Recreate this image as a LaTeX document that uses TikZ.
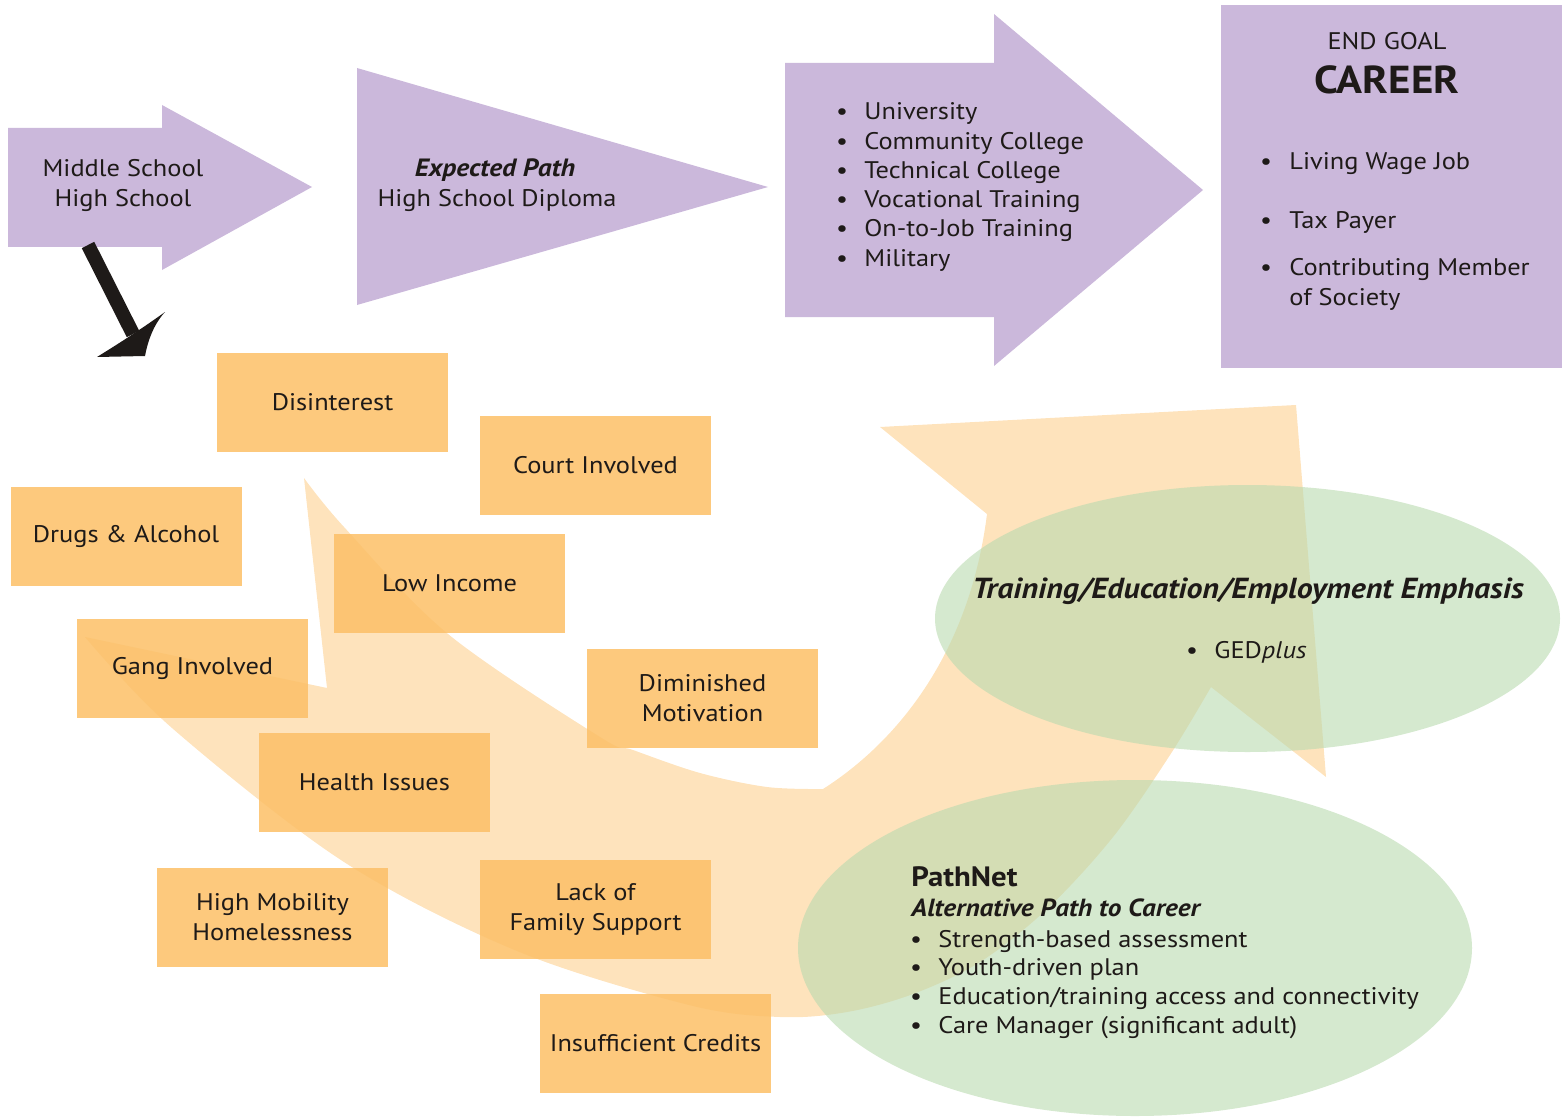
\documentclass[tikz,border=0pt]{standalone}
\usepackage{fontspec}
\setmainfont{PT Sans}[FakeStretch=1.1]
\usetikzlibrary{shapes.geometric}
\definecolor{purpc}{HTML}{CBB8DB}
\definecolor{oboxc}{RGB}{253,191,102}
\definecolor{obandc}{RGB}{252,192,106}
\definecolor{gellc}{RGB}{185,218,175}
\definecolor{tcol}{HTML}{1E1A18}
\begin{document}
\begin{tikzpicture}[x=0.5pt,y=-0.5pt,
  purp/.style={fill=purpc},
  tx/.style={text=tcol, inner sep=0pt, font=\fontsize{12}{15}\selectfont},
  obx/.style={fill=oboxc, fill opacity=0.85, text opacity=1, minimum width=115.5pt,
    minimum height=49.5pt, inner sep=0pt, align=center, text=tcol,
    font=\fontsize{12}{15}\selectfont},
  ell/.style={ellipse, fill=gellc, fill opacity=0.6, inner sep=0pt},
  bandfill/.style={fill=obandc, fill opacity=0.45},
]
\useasboundingbox (0,0) rectangle (1562,1118);

% ---------- purple top row ----------
\fill[purp] (8,128) -- (162,128) -- (162,105) -- (312,187) -- (162,270) -- (162,247) -- (8,247) -- cycle;
\fill[purp] (357,68) -- (768,187) -- (357,305) -- cycle;
\fill[purp] (785,63) -- (994,63) -- (994,14) -- (1203,190) -- (994,366) -- (994,317) -- (785,317) -- cycle;
\fill[purp] (1221,5) rectangle (1562,368);

\node[tx, anchor=base] (ms1) at (123,177) {Middle School};
\node[tx, anchor=base] (ms2) at (123,207) {High School};
\node[tx, anchor=base, font=\fontsize{12.5}{15}\selectfont\bfseries\itshape] (ep1) at (495,177) {Expected Path};
\node[tx, anchor=base] (ep2) at (497,207) {High School Diploma};

\foreach \t [count=\i] in {University, Community College, Technical College, Vocational Training, On-to-Job Training, Military}{
  \node[tx, anchor=base] (pb\i) at (842,{120+29.2*(\i-1)}) {\textbullet};
  \node[tx, anchor=base west] (pt\i) at (864,{120+29.2*(\i-1)}) {\t};
}

\node[tx, anchor=base] (eg) at (1387,50) {END GOAL};
\node[tx, anchor=base, font=\fontsize{19.5}{21}\selectfont\bfseries] (car) at (1387,94) {CAREER};
\node[tx, anchor=base] (cb1) at (1266,170) {\textbullet};
\node[tx, anchor=base west] (ct1) at (1289,170) {Living Wage Job};
\node[tx, anchor=base] (cb2) at (1266,228) {\textbullet};
\node[tx, anchor=base west] (ct2) at (1289,228) {Tax Payer};
\node[tx, anchor=base] (cb3) at (1266,276) {\textbullet};
\node[tx, anchor=base west] (ct3) at (1289,276) {Contributing Member};
\node[tx, anchor=base west] (ct4) at (1289,305) {of Society};

% ---------- black arrow ----------
\coordinate (bs) at (88,245);
\coordinate (be) at (133,334);
\draw[line width=7pt, tcol] (bs) -- (be);
\fill[tcol] (165,312) .. controls (140,330) and (118,344) .. (97,357)
  -- (145,356) .. controls (148,340) and (154,324) .. (165,312) -- cycle;

% ---------- curved orange band ----------
\path[bandfill] (304,478) -- (327,688) -- (85,637)
  -- plot[smooth, tension=0.55] coordinates {(85,637) (172,728) (344,862) (517,951) (689,1005) (780,1017) (847,1012) (913,994) (980,962) (1047,909) (1113,837) (1170,755) (1211,687)}
  -- (1326,777) -- (1296,405) -- (880,427) -- (987,514)
  .. controls (970,650) and (900,740) .. (823,789)
  -- plot[smooth, tension=0.55] coordinates {(823,789) (767,787) (700,773) (633,750) (600,737) (448,634) (344,527) (304,478)}
  -- cycle;

% ---------- orange boxes ----------
\node[obx] (disint) at (332.5,402) {Disinterest};
\node[obx] (court) at (595.5,465.5) {Court Involved};
\node[obx] (drugs) at (126,536.5) {Drugs \& Alcohol};
\node[obx] (lowinc) at (449.5,583.5) {Low Income};
\node[obx] (gang) at (192.5,668.5) {Gang Involved};
\node[obx] (dimmot) at (702.5,698.5) {Diminished\\Motivation};
\node[obx] (health) at (374.5,782) {Health Issues};
\node[obx] (mobil) at (272.5,917) {High Mobility\\Homelessness};
\node[obx] (family) at (595.5,909.5) {Lack of\\Family Support};
\node[obx] (credits) at (655.5,1043.5) {Insufficient Credits};

% ---------- green ellipses ----------
\node[ell, minimum width=312.5pt, minimum height=133.5pt] (e1) at (1247.5,618.5) {};
\node[ell, minimum width=337pt, minimum height=168pt] (e2) at (1135,948) {};

\node[tx, anchor=base, font=\fontsize{14.5}{16}\selectfont\bfseries\itshape] (e1t) at (1248,598) {Training/Education/Employment Emphasis};
\node[tx, anchor=base] (e1b) at (1192,658) {\textbullet};
\node[tx, anchor=base west] (e1g) at (1214,658) {GED\textit{plus}};

\node[tx, anchor=base west, font=\fontsize{14}{15}\selectfont\bfseries] (pn) at (911,886) {PathNet};
\node[tx, anchor=base west, font=\fontsize{12.4}{15}\selectfont\bfseries\itshape] (alt) at (911,916) {Alternative Path to Career};
\foreach \t [count=\i] in {Strength-based assessment, Youth-driven plan, Education/training access and connectivity, Care Manager (significant adult)}{
  \node[tx, anchor=base] (qb\i) at (916,{947+28.7*(\i-1)}) {\textbullet};
  \node[tx, anchor=base west] (qt\i) at (938,{947+28.7*(\i-1)}) {\t};
}
\end{tikzpicture}
\end{document}
